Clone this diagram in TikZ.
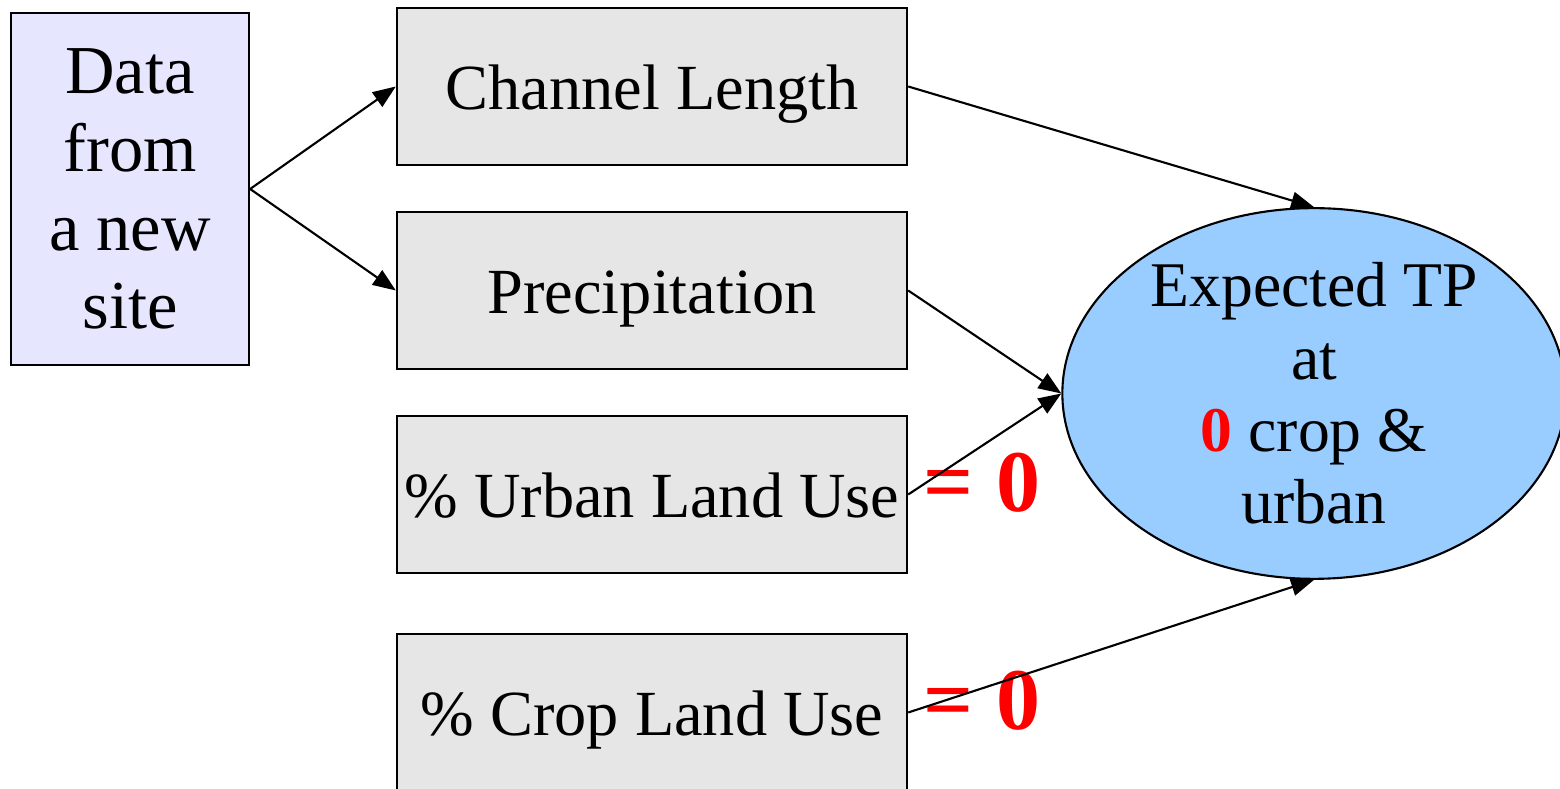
\documentclass[tikz,border=0pt]{standalone}
\usepackage{fontspec}
\setmainfont{Liberation Serif}
\usetikzlibrary{arrows.meta,shapes.geometric}
\definecolor{lavender}{HTML}{E6E6FF}
\definecolor{boxgray}{HTML}{E6E6E6}
\definecolor{skyblue}{HTML}{99CCFF}
\definecolor{zerored}{HTML}{FF0000}
\tikzset{
  varbox/.style={draw=black, line width=0.6pt, fill=boxgray, rectangle, inner sep=0pt,
    minimum width=5.10cm, minimum height=1.57cm, align=center,
    text height=13.3pt, text depth=0pt,
    font=\fontsize{18.3}{22}\selectfont},
  sitebox/.style={draw=black, line width=0.6pt, fill=lavender, rectangle, inner sep=0pt,
    minimum width=2.38cm, minimum height=3.52cm, align=center,
    font=\fontsize{19.5}{22.3}\selectfont},
  outcome/.style={draw=black, line width=0.6pt, fill=skyblue, ellipse, inner sep=0pt,
    minimum width=5.03cm, minimum height=3.64cm, align=center,
    font=\fontsize{18.1}{20.6}\selectfont},
  link/.style={line width=0.6pt, -{Triangle[length=6.5pt,width=5pt]}},
  zerolabel/.style={text=zerored, font=\fontsize{25}{25}\selectfont\bfseries, inner sep=0pt}
}
\begin{document}
\begin{tikzpicture}[x=0.01cm, y=-0.01cm]
  \useasboundingbox (0,0) rectangle (1560,789);
  \clip (0,0) rectangle (1560,789);

  \node[sitebox] (site) at (130,189) {Data\\from\\a new\\site};
  \node[varbox] (chan) at (652,86.5) {Channel Length};
  \node[varbox] (prec) at (652,290.5) {Precipitation};
  \node[varbox] (urban) at (652,494.5) {\%~Urban Land Use};
  \node[varbox] (crop) at (652,712.5) {\%~Crop Land Use};
  \node[outcome] (tp) at (1314,393.5)
    {Expected TP\\at\\{\color{zerored}\bfseries 0} crop \&\\urban};

  \node[zerolabel, anchor=base] (uz) at (982,512) {= 0};
  \node[zerolabel, anchor=base] (cz) at (982,730) {= 0};

  \draw[link] (site.east) -- (chan.west);
  \draw[link] (site.east) -- (prec.west);
  \draw[link] (chan.east) -- (tp.north);
  \draw[link] (prec.east) -- (tp.west);
  \draw[link] (urban.east) -- (tp.west);
  \draw[link] (crop.east) -- (tp.south);
\end{tikzpicture}
\end{document}
